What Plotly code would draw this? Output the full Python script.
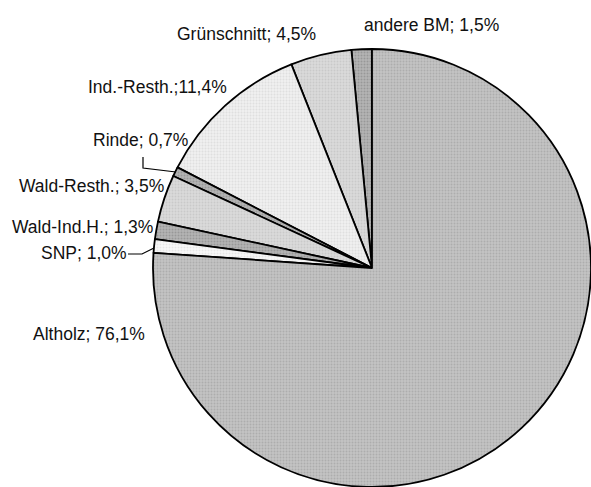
import plotly.graph_objects as go

# Biomass shares (percent), listed counter-clockwise from 12 o'clock
categories = ["andere BM", "Grünschnitt", "Ind.-Resth.", "Rinde",
              "Wald-Resth.", "Wald-Ind.H.", "SNP", "Altholz"]
shares = [1.5, 4.5, 11.4, 0.7, 3.5, 1.3, 1.0, 76.1]
share_labels = ["1,5%", "4,5%", "11,4%", "0,7%", "3,5%", "1,3%", "1,0%", "76,1%"]
separators = ["; ", "; ", ";", "; ", "; ", "; ", "; ", "; "]

# Grey fills with a fine dotted texture
fill_bg = ["#b4b4b4", "#dadada", "#efefef", "#b4b4b4",
           "#dadada", "#b4b4b4", "#f7f7f7", "#c4c4c4"]
fill_fg = ["#7c7c7c", "#b8b8b8", "#cfcfcf", "#7c7c7c",
           "#b8b8b8", "#7c7c7c", "#d6d6d6", "#969696"]

W, H = 591, 487

# Plotly's counter-clockwise layout ends the first slice at 12 o'clock;
# turn the pie so the first slice starts there instead.
first_angle = shares[0] / sum(shares) * 360

fig = go.Figure(go.Pie(
    labels=categories,
    values=shares,
    sort=False,
    direction="counterclockwise",
    rotation=-first_angle,
    textinfo="none",
    hoverinfo="label+percent",
    showlegend=False,
    marker=dict(
        colors=fill_bg,
        line=dict(color="#000000", width=1.8),
        pattern=dict(shape=["."] * len(categories), fgcolor=fill_fg,
                     bgcolor=fill_bg, size=3, solidity=0.35,
                     fillmode="overlay"),
    ),
    domain=dict(x=[153 / W, 1.0], y=[0.0, 1 - 49 / H]),
))

# Label anchor points in pixels (x centre, y middle)
label_pos = {
    "andere BM": (431, 25),
    "Grünschnitt": (246, 34),
    "Ind.-Resth.": (157, 87),
    "Rinde": (140, 140),
    "Wald-Resth.": (91, 186),
    "Wald-Ind.H.": (83, 227),
    "SNP": (84, 253),
    "Altholz": (89, 334),
}

for cat, sep, lab in zip(categories, separators, share_labels):
    px, py = label_pos[cat]
    fig.add_annotation(
        x=px / W, y=1 - py / H, xref="paper", yref="paper",
        text=f"{cat}{sep}{lab}", showarrow=False,
        xanchor="center", yanchor="middle",
        font=dict(family="Liberation Sans, Arial, sans-serif", size=17.5,
                  color="#111111"),
    )


def to_path(points):
    return "M " + " L ".join(f"{x / W:.5f},{1 - y / H:.5f}" for x, y in points)


# Leader lines for the two narrow slices
for pts in ([(143, 157), (143, 168), (176, 172)],
            [(128, 254), (142, 254), (154, 248)]):
    fig.add_shape(type="path", path=to_path(pts), xref="paper", yref="paper",
                  line=dict(color="#000000", width=1.2))

fig.update_layout(
    width=W, height=H,
    margin=dict(l=0, r=0, t=0, b=0),
    paper_bgcolor="#ffffff",
    plot_bgcolor="#ffffff",
)

fig.write_html("out.html")
